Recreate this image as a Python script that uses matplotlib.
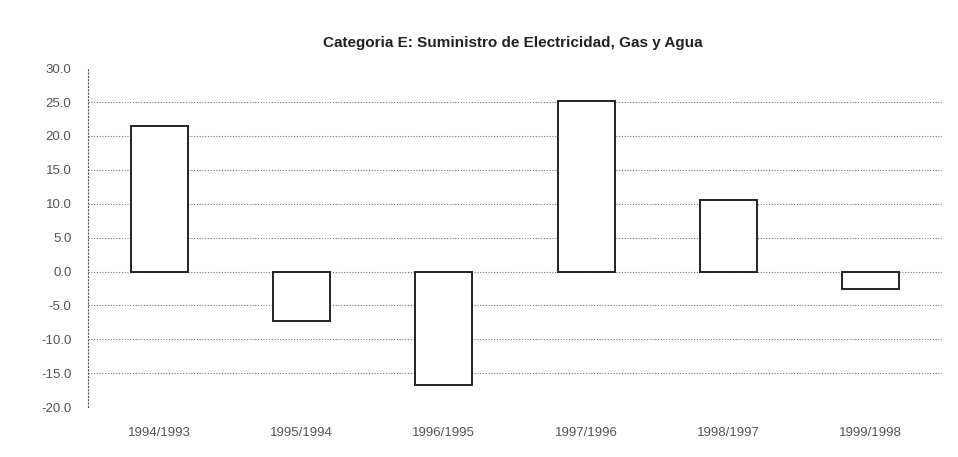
import numpy as np
import matplotlib.pyplot as plt

# Datos (variación %)
periodos = ['1994/1993', '1995/1994', '1996/1995', '1997/1996', '1998/1997', '1999/1998']
variacion = [21.4, -7.3, -16.8, 25.2, 10.6, -2.5]
y_ticks = [-20, -15, -10, -5, 0, 5, 10, 15, 20, 25, 30]

plt.rcParams['font.family'] = ['Liberation Sans', 'DejaVu Sans']

fig = plt.figure(figsize=(9.58, 4.57), dpi=100)
ax = fig.add_axes([0.092, 0.109, 0.891, 0.742])

x = np.arange(len(periodos))
ax.bar(x, variacion, width=0.4, color='white', edgecolor='#222222',
       linewidth=1.4, zorder=3)

# líneas de cuadrícula punteadas
for v in y_ticks[1:-1]:
    ax.axhline(v, color='#777777', linestyle=(0, (1, 1.5)), linewidth=0.8, zorder=1)

ax.set_xlim(-0.5, 5.5)
ax.set_ylim(-20, 30)
ax.set_yticks(y_ticks)
ax.set_yticklabels([f'{v:.1f}' for v in y_ticks], fontsize=9.5, color='#555555')
ax.set_xticks(x)
ax.set_xticklabels(periodos, fontsize=9.5, color='#555555')
ax.tick_params(axis='both', length=0)
ax.tick_params(axis='x', pad=14)
ax.tick_params(axis='y', pad=12)

for s in ['top', 'right', 'bottom']:
    ax.spines[s].set_visible(False)
ax.spines['left'].set_linestyle((0, (1, 2)))
ax.spines['left'].set_color('#555555')
ax.spines['left'].set_linewidth(0.8)

fig.text(0.535, 0.907, 'Categoria E: Suministro de Electricidad, Gas y Agua',
         ha='center', va='center', fontsize=11, fontweight='bold', color='#222222')

plt.savefig('out.png', dpi=100)
